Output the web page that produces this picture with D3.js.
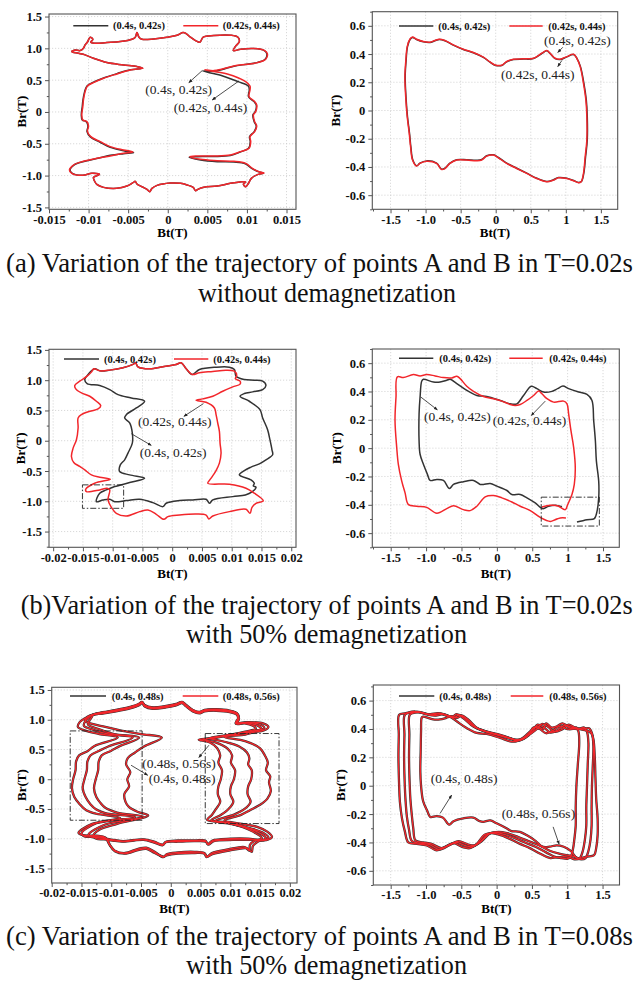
<!DOCTYPE html>
<html><head><meta charset="utf-8">
<script src="https://cdn.jsdelivr.net/npm/d3@7"></script>
<style>
body{margin:0;background:#fff}
svg{display:block}
svg text{font-family:'Liberation Serif','Times New Roman',Times,serif}
</style></head><body>
<svg id="fig" width="639" height="984"></svg>
<script>
// ---------- tick values and labels ----------
const btTicksA = [-0.015,-0.01,-0.005,0,0.005,0.01,0.015];
const btLabelsA = ["-0.015","-0.01","-0.005","0","0.005","0.01","0.015"];
const btTicksB = [-0.02,-0.015,-0.01,-0.005,0,0.005,0.01,0.015,0.02];
const btLabelsB = ["-0.02","-0.015","-0.01","-0.005","0","0.005","0.01","0.015","0.02"];
const brTicksA = [-1.5,-1,-0.5,0,0.5,1,1.5];
const brLabelsA = ["-1.5","-1.0","-0.5","0","0.5","1.0","1.5"];
const btTicksR = [-1.5,-1,-0.5,0,0.5,1,1.5];
const btLabelsR = ["-1.5","-1.0","-0.5","0","0.5","1","1.5"];
const brTicksR = [-0.6,-0.4,-0.2,0,0.2,0.4,0.6];
const brLabelsR = ["-0.6","-0.4","-0.2","0","0.2","0.4","0.6"];

// ---------- (a) point A, no demagnetization, [Bt, Br] in T ----------
const aLeftRed = [[-0.01014,1.100],[-0.00980,1.175],[-0.00946,1.143],[-0.00972,1.096],[-0.00917,1.080],[-0.00769,1.091],[-0.00600,1.106],[-0.00452,1.143],[-0.00410,1.175],[-0.00389,1.248],[-0.00363,1.175],[-0.00325,1.143],[-0.00177,1.148],[-0.00008,1.175],[0.00118,1.206],[0.00194,1.248],[0.00237,1.227],[0.00287,1.175],[0.00351,1.122],[0.00406,1.096],[0.00448,1.175],[0.00583,1.201],[0.00794,1.206],[0.00887,1.175],[0.00904,1.106],[0.00853,1.028],[0.00828,0.965],[0.00921,0.986],[0.01090,0.996],[0.01225,0.965],[0.01259,0.912],[0.01238,0.829],[0.01132,0.776],[0.01005,0.750],[0.00836,0.724],[0.00689,0.676],[0.00583,0.650],[0.00465,0.661],[0.00752,0.598],[0.00984,0.477],[0.01039,0.409],[0.01039,0.346],[0.01027,0.241],[0.01098,0.163],[0.01124,0.110],[0.01111,0.005],[0.01082,-0.047],[0.01098,-0.152],[0.01124,-0.220],[0.01098,-0.309],[0.01039,-0.388],[0.01048,-0.467],[0.01027,-0.572],[0.00921,-0.624],[0.00794,-0.676],[0.00583,-0.692],[0.00372,-0.692],[0.00279,-0.703],[0.00414,-0.745],[0.00625,-0.766],[0.00836,-0.776],[0.00984,-0.808],[0.01069,-0.886],[0.01153,-0.939],[0.01217,-0.960],[0.01141,-0.981],[0.01056,-1.044],[0.01014,-1.133],[0.00984,-1.175],[0.00955,-1.133],[0.00984,-1.101],[0.00836,-1.112],[0.00625,-1.164],[0.00456,-1.185],[0.00380,-1.217],[0.00351,-1.238],[0.00321,-1.185],[0.00245,-1.148],[0.00161,-1.122],[0.00034,-1.117],[-0.00135,-1.154],[-0.00199,-1.201],[-0.00228,-1.253],[-0.00262,-1.217],[-0.00325,-1.175],[-0.00389,-1.133],[-0.00410,-1.091],[-0.00439,-1.112],[-0.00515,-1.164],[-0.00642,-1.201],[-0.00811,-1.185],[-0.00896,-1.138],[-0.00925,-1.085],[-0.00938,-1.028],[-0.00862,-0.981],[-0.00959,-0.965],[-0.01073,-0.996],[-0.01212,-0.965],[-0.01242,-0.912],[-0.01191,-0.834],[-0.01065,-0.776],[-0.00896,-0.729],[-0.00727,-0.692],[-0.00558,-0.650],[-0.00439,-0.629],[-0.00558,-0.598],[-0.00727,-0.545],[-0.00853,-0.467],[-0.00972,-0.388],[-0.01014,-0.309],[-0.01001,-0.220],[-0.01022,-0.152],[-0.01073,-0.126],[-0.01086,-0.047],[-0.01073,0.084],[-0.01065,0.189],[-0.01044,0.320],[-0.01014,0.409],[-0.00938,0.461],[-0.00811,0.530],[-0.00642,0.598],[-0.00473,0.661],[-0.00313,0.687],[-0.00389,0.713],[-0.00558,0.739],[-0.00769,0.776],[-0.00938,0.844],[-0.01044,0.897],[-0.01128,0.923],[-0.01212,0.949],[-0.01170,0.975],[-0.01107,0.965],[-0.01065,1.002],[-0.01044,1.054]];
const aLeftBlack = [[-0.01014,1.100],[-0.00980,1.175],[-0.00946,1.143],[-0.00972,1.096],[-0.00917,1.080],[-0.00769,1.091],[-0.00600,1.106],[-0.00452,1.143],[-0.00410,1.175],[-0.00389,1.248],[-0.00363,1.175],[-0.00325,1.143],[-0.00177,1.148],[-0.00008,1.175],[0.00118,1.206],[0.00194,1.248],[0.00237,1.227],[0.00287,1.175],[0.00351,1.122],[0.00406,1.096],[0.00448,1.175],[0.00583,1.201],[0.00794,1.206],[0.00887,1.175],[0.00904,1.106],[0.00853,1.028],[0.00828,0.965],[0.00921,0.986],[0.01090,0.996],[0.01220,0.965],[0.01252,0.912],[0.01230,0.829],[0.01128,0.776],[0.01000,0.750],[0.00836,0.720],[0.00689,0.668],[0.00583,0.640],[0.00439,0.645],[0.00668,0.577],[0.00887,0.477],[0.01018,0.409],[0.01030,0.346],[0.01020,0.241],[0.01090,0.163],[0.01118,0.110],[0.01105,0.005],[0.01075,-0.047],[0.01092,-0.152],[0.01118,-0.220],[0.01092,-0.309],[0.01033,-0.388],[0.01042,-0.467],[0.01020,-0.572],[0.00915,-0.630],[0.00790,-0.684],[0.00583,-0.700],[0.00372,-0.702],[0.00270,-0.713],[0.00414,-0.755],[0.00625,-0.781],[0.00836,-0.788],[0.00980,-0.815],[0.01065,-0.890],[0.01150,-0.942],[0.01210,-0.962],[0.01141,-0.981],[0.01056,-1.044],[0.01014,-1.133],[0.00984,-1.175],[0.00955,-1.133],[0.00984,-1.101],[0.00836,-1.112],[0.00625,-1.164],[0.00456,-1.185],[0.00380,-1.217],[0.00351,-1.238],[0.00321,-1.185],[0.00245,-1.148],[0.00161,-1.122],[0.00034,-1.117],[-0.00135,-1.154],[-0.00199,-1.201],[-0.00228,-1.253],[-0.00262,-1.217],[-0.00325,-1.175],[-0.00389,-1.133],[-0.00410,-1.091],[-0.00439,-1.112],[-0.00515,-1.164],[-0.00642,-1.201],[-0.00811,-1.185],[-0.00896,-1.138],[-0.00925,-1.085],[-0.00938,-1.028],[-0.00862,-0.981],[-0.00959,-0.965],[-0.01073,-0.996],[-0.01205,-0.965],[-0.01235,-0.912],[-0.01185,-0.834],[-0.01060,-0.778],[-0.00896,-0.733],[-0.00727,-0.681],[-0.00558,-0.655],[-0.00431,-0.640],[-0.00558,-0.608],[-0.00727,-0.556],[-0.00860,-0.472],[-0.00978,-0.392],[-0.01020,-0.309],[-0.01008,-0.220],[-0.01030,-0.152],[-0.01080,-0.126],[-0.01092,-0.047],[-0.01080,0.084],[-0.01071,0.189],[-0.01050,0.320],[-0.01020,0.409],[-0.00945,0.465],[-0.00811,0.535],[-0.00642,0.603],[-0.00473,0.664],[-0.00318,0.689],[-0.00389,0.713],[-0.00558,0.739],[-0.00769,0.776],[-0.00938,0.844],[-0.01044,0.897],[-0.01128,0.923],[-0.01212,0.949],[-0.01170,0.975],[-0.01107,0.965],[-0.01065,1.002],[-0.01044,1.054]];

// ---------- (a) point B, no demagnetization ----------
const aRightRed = [[-1.224,0.505],[-1.186,0.520],[-1.129,0.505],[-1.033,0.489],[-0.938,0.484],[-0.867,0.496],[-0.805,0.505],[-0.724,0.496],[-0.605,0.465],[-0.462,0.434],[-0.319,0.411],[-0.176,0.378],[-0.081,0.344],[-0.010,0.323],[0.086,0.321],[0.157,0.347],[0.252,0.363],[0.395,0.366],[0.538,0.370],[0.657,0.406],[0.729,0.425],[0.776,0.406],[0.848,0.370],[0.919,0.363],[1.014,0.382],[1.110,0.399],[1.157,0.370],[1.205,0.311],[1.252,0.193],[1.286,0.075],[1.300,-0.044],[1.300,-0.209],[1.276,-0.328],[1.252,-0.446],[1.219,-0.505],[1.181,-0.512],[1.110,-0.498],[1.014,-0.482],[0.895,-0.477],[0.824,-0.493],[0.729,-0.505],[0.586,-0.482],[0.443,-0.446],[0.300,-0.411],[0.157,-0.375],[0.038,-0.335],[-0.033,-0.316],[-0.129,-0.323],[-0.200,-0.351],[-0.271,-0.356],[-0.414,-0.351],[-0.557,-0.351],[-0.652,-0.375],[-0.724,-0.411],[-0.771,-0.418],[-0.843,-0.375],[-0.986,-0.359],[-1.081,-0.375],[-1.129,-0.394],[-1.186,-0.351],[-1.214,-0.257],[-1.233,-0.162],[-1.262,-0.044],[-1.281,0.075],[-1.295,0.240],[-1.281,0.359],[-1.262,0.453]];
const aRightBlack = [[-1.220,0.505],[-1.186,0.518],[-1.129,0.503],[-1.033,0.487],[-0.938,0.482],[-0.867,0.494],[-0.805,0.503],[-0.724,0.494],[-0.605,0.463],[-0.462,0.432],[-0.319,0.409],[-0.176,0.376],[-0.081,0.342],[-0.010,0.321],[0.086,0.319],[0.157,0.345],[0.252,0.361],[0.395,0.364],[0.538,0.368],[0.657,0.404],[0.729,0.423],[0.776,0.404],[0.848,0.368],[0.919,0.361],[1.014,0.380],[1.110,0.397],[1.160,0.368],[1.210,0.309],[1.258,0.193],[1.292,0.075],[1.306,-0.044],[1.306,-0.209],[1.282,-0.328],[1.256,-0.446],[1.222,-0.503],[1.181,-0.510],[1.110,-0.496],[1.014,-0.480],[0.895,-0.475],[0.824,-0.491],[0.729,-0.503],[0.586,-0.480],[0.443,-0.444],[0.300,-0.409],[0.157,-0.373],[0.038,-0.333],[-0.033,-0.314],[-0.129,-0.321],[-0.200,-0.347],[-0.271,-0.352],[-0.414,-0.349],[-0.557,-0.349],[-0.652,-0.373],[-0.724,-0.409],[-0.771,-0.416],[-0.843,-0.373],[-0.986,-0.357],[-1.081,-0.373],[-1.126,-0.392],[-1.182,-0.351],[-1.210,-0.257],[-1.229,-0.162],[-1.258,-0.044],[-1.277,0.075],[-1.291,0.240],[-1.277,0.359],[-1.258,0.453]];

// ---------- (b) point A, 50% demagnetization ----------
const bLeftRed = [[-0.01318,1.188],[-0.01218,1.155],[-0.01050,1.166],[-0.00827,1.204],[-0.00659,1.260],[-0.00615,1.287],[-0.00575,1.221],[-0.00380,1.188],[-0.00156,1.221],[0.00067,1.260],[0.00151,1.287],[0.00235,1.188],[0.00335,1.094],[0.00458,1.122],[0.00682,1.144],[0.00905,1.166],[0.01045,1.149],[0.01084,1.077],[0.01061,1.022],[0.01140,0.983],[0.01140,0.934],[0.01017,0.890],[0.00849,0.818],[0.00682,0.735],[0.00514,0.691],[0.00402,0.669],[0.00570,0.635],[0.00709,0.541],[0.00737,0.431],[0.00765,0.293],[0.00793,0.155],[0.00804,-0.039],[0.00821,-0.204],[0.00793,-0.370],[0.00737,-0.492],[0.00654,-0.619],[0.00598,-0.702],[0.00961,-0.718],[0.01240,-0.785],[0.01380,-0.867],[0.01531,-0.994],[0.01408,-1.033],[0.01341,-1.099],[0.01307,-1.199],[0.01240,-1.133],[0.00961,-1.171],[0.00682,-1.243],[0.00615,-1.293],[0.00570,-1.227],[0.00402,-1.210],[0.00123,-1.227],[-0.00073,-1.254],[-0.00140,-1.298],[-0.00268,-1.215],[-0.00408,-1.144],[-0.00547,-1.171],[-0.00771,-1.243],[-0.00939,-1.199],[-0.01022,-1.099],[-0.01078,-0.978],[-0.01050,-0.812],[-0.01095,-0.785],[-0.01218,-0.812],[-0.01441,-0.840],[-0.01453,-0.801],[-0.01302,-0.702],[-0.01039,-0.635],[-0.01218,-0.602],[-0.01358,-0.564],[-0.01469,-0.481],[-0.01553,-0.425],[-0.01654,-0.359],[-0.01693,-0.260],[-0.01665,-0.122],[-0.01609,0.017],[-0.01581,0.210],[-0.01581,0.376],[-0.01525,0.431],[-0.01385,0.486],[-0.01246,0.525],[-0.01201,0.580],[-0.01274,0.652],[-0.01385,0.735],[-0.01525,0.790],[-0.01620,0.856],[-0.01637,0.912],[-0.01553,0.983],[-0.01430,1.066],[-0.01358,1.133]];
const bLeftBlack = [[-0.01302,1.188],[-0.01218,1.155],[-0.01050,1.166],[-0.00827,1.204],[-0.00659,1.260],[-0.00615,1.287],[-0.00575,1.221],[-0.00380,1.188],[-0.00156,1.221],[0.00067,1.260],[0.00151,1.287],[0.00235,1.188],[0.00335,1.094],[0.00458,1.177],[0.00737,1.215],[0.00961,1.215],[0.01045,1.177],[0.01073,1.066],[0.01212,1.011],[0.01380,1.000],[0.01520,0.983],[0.01575,0.912],[0.01520,0.845],[0.01352,0.807],[0.01212,0.779],[0.01140,0.735],[0.01296,0.652],[0.01475,0.514],[0.01520,0.376],[0.01603,0.182],[0.01642,0.017],[0.01676,-0.149],[0.01687,-0.232],[0.01575,-0.315],[0.01464,-0.381],[0.01324,-0.436],[0.01212,-0.492],[0.01128,-0.564],[0.01324,-0.646],[0.01380,-0.702],[0.01363,-0.746],[0.01408,-0.768],[0.01341,-0.845],[0.01229,-0.895],[0.01017,-0.923],[0.00682,-0.978],[0.00626,-1.033],[0.00570,-0.967],[0.00346,-0.978],[0.00123,-0.989],[-0.00101,-1.033],[-0.00156,-1.088],[-0.00324,-1.022],[-0.00547,-0.967],[-0.00771,-0.989],[-0.00966,-1.006],[-0.01050,-0.967],[-0.01162,-0.978],[-0.01274,-1.006],[-0.01218,-0.867],[-0.01106,-0.812],[-0.00966,-0.757],[-0.00715,-0.691],[-0.00464,-0.619],[-0.00715,-0.564],[-0.00883,-0.508],[-0.00872,-0.398],[-0.00799,-0.315],[-0.00743,-0.204],[-0.00670,-0.039],[-0.00670,0.127],[-0.00715,0.293],[-0.00799,0.376],[-0.00771,0.431],[-0.00603,0.541],[-0.00464,0.652],[-0.00687,0.707],[-0.00911,0.762],[-0.01050,0.845],[-0.01218,0.912],[-0.01430,0.945],[-0.01469,1.011],[-0.01413,1.094]];

// ---------- (b) point B, 50% demagnetization (open trajectories) ----------
const bRightRed = [[0.637,-0.415],[0.755,-0.403],[0.858,-0.406],[0.967,-0.434],[1.000,-0.399],[1.061,-0.327],[1.094,-0.256],[1.108,-0.138],[1.085,0.005],[1.047,0.123],[1.014,0.242],[0.991,0.313],[0.943,0.332],[0.802,0.325],[0.708,0.349],[0.637,0.384],[0.590,0.403],[0.519,0.372],[0.425,0.337],[0.330,0.308],[0.259,0.301],[0.189,0.308],[0.071,0.332],[-0.047,0.349],[-0.189,0.365],[-0.330,0.401],[-0.425,0.437],[-0.519,0.491],[-0.566,0.508],[-0.637,0.496],[-0.755,0.498],[-0.873,0.510],[-0.991,0.520],[-1.085,0.510],[-1.179,0.520],[-1.321,0.498],[-1.406,0.503],[-1.425,0.361],[-1.439,0.195],[-1.415,0.005],[-1.392,-0.114],[-1.344,-0.233],[-1.297,-0.316],[-1.250,-0.399],[-1.132,-0.410],[-0.991,-0.418],[-0.849,-0.460],[-0.708,-0.427],[-0.613,-0.406],[-0.472,-0.434],[-0.377,-0.441],[-0.283,-0.410],[-0.165,-0.344],[-0.047,-0.335],[0.071,-0.351],[0.212,-0.380],[0.330,-0.410],[0.472,-0.441],[0.613,-0.489],[0.755,-0.517],[0.825,-0.505],[0.896,-0.493],[0.976,-0.493]];
const bRightBlack = [[1.132,-0.522],[1.274,-0.505],[1.377,-0.498],[1.415,-0.446],[1.439,-0.351],[1.439,-0.233],[1.406,-0.090],[1.392,0.052],[1.368,0.195],[1.344,0.337],[1.274,0.380],[1.156,0.396],[1.014,0.420],[0.934,0.439],[0.858,0.420],[0.778,0.401],[0.660,0.396],[0.566,0.420],[0.486,0.437],[0.377,0.372],[0.283,0.313],[0.189,0.313],[0.047,0.337],[-0.142,0.365],[-0.283,0.372],[-0.425,0.408],[-0.566,0.456],[-0.660,0.486],[-0.708,0.479],[-0.802,0.467],[-0.896,0.467],[-1.038,0.486],[-1.061,0.474],[-1.085,0.361],[-1.099,0.242],[-1.099,0.052],[-1.085,-0.043],[-1.038,-0.114],[-0.981,-0.185],[-0.943,-0.228],[-0.849,-0.221],[-0.755,-0.228],[-0.670,-0.285],[-0.613,-0.256],[-0.472,-0.237],[-0.330,-0.228],[-0.236,-0.256],[-0.189,-0.256],[-0.094,-0.249],[0.000,-0.268],[0.142,-0.299],[0.212,-0.327],[0.330,-0.327],[0.425,-0.351],[0.542,-0.387],[0.651,-0.427],[0.731,-0.410],[0.825,-0.403],[0.920,-0.413]];

// ---------- (c) point A, T=0.08s, 50% demagnetization: four cycles ----------
const cLeftCycle1 = [[-0.0136,1.07],[-0.01145,1.111],[-0.0092,1.150],[-0.00668,1.206],[-0.00539,1.250],[-0.00483,1.289],[-0.00438,1.233],[-0.00303,1.194],[-0.00079,1.217],[0.0009,1.250],[0.00191,1.289],[0.00258,1.233],[0.0037,1.150],[0.00483,1.117],[0.00567,1.150],[0.00763,1.161],[0.00988,1.139],[0.01111,1.094],[0.01128,1.011],[0.01089,0.939],[0.0124,0.94],[0.0138,0.90],[0.0143,0.85],[0.0125,0.80],[0.0095,0.74],[0.0068,0.69],[0.0047,0.665],[0.0065,0.62],[0.0078,0.52],[0.0083,0.40],[0.0080,0.28],[0.0086,0.15],[0.0084,0.0],[0.0080,-0.12],[0.0079,-0.25],[0.0083,-0.38],[0.0076,-0.50],[0.0069,-0.60],[0.0061,-0.683],[0.0090,-0.72],[0.0120,-0.80],[0.0138,-0.88],[0.0153,-0.99],[0.0140,-1.04],[0.0133,-1.10],[0.0132,-1.20],[0.0124,-1.14],[0.0096,-1.18],[0.0069,-1.24],[0.0060,-1.31],[0.0056,-1.24],[0.0040,-1.22],[0.0012,-1.23],[-0.0007,-1.26],[-0.00125,-1.31],[-0.0027,-1.22],[-0.0041,-1.15],[-0.0055,-1.17],[-0.0077,-1.24],[-0.0094,-1.20],[-0.0103,-1.10],[-0.0110,-0.98],[-0.0125,-0.95],[-0.0148,-0.94],[-0.0155,-0.90],[-0.0132,-0.75],[-0.0085,-0.65],[-0.0125,-0.58],[-0.0142,-0.52],[-0.0153,-0.42],[-0.0162,-0.30],[-0.0166,-0.15],[-0.0164,0.0],[-0.0160,0.15],[-0.0159,0.30],[-0.0154,0.40],[-0.0140,0.47],[-0.0128,0.56],[-0.0089,0.70],[-0.0120,0.76],[-0.0145,0.82],[-0.0156,0.88],[-0.0153,0.96],[-0.0143,1.03]];
const cLeftCycle2 = [[-0.0133,1.08],[-0.01145,1.126],[-0.0092,1.165],[-0.00668,1.221],[-0.00539,1.265],[-0.00483,1.30],[-0.00438,1.248],[-0.00303,1.209],[-0.00079,1.232],[0.0009,1.265],[0.00191,1.30],[0.00258,1.248],[0.0037,1.165],[0.00483,1.132],[0.00567,1.165],[0.00763,1.176],[0.00988,1.154],[0.01111,1.109],[0.01135,1.026],[0.01095,0.954],[0.0126,0.95],[0.0146,0.90],[0.0152,0.85],[0.0135,0.80],[0.0100,0.74],[0.0073,0.69],[0.0054,0.67],[0.0075,0.62],[0.0095,0.52],[0.0103,0.40],[0.0101,0.28],[0.0108,0.15],[0.0106,0.0],[0.0101,-0.12],[0.0100,-0.25],[0.0105,-0.38],[0.0097,-0.50],[0.0084,-0.60],[0.0068,-0.69],[0.0100,-0.74],[0.0130,-0.82],[0.0148,-0.90],[0.0160,-0.99],[0.0146,-1.05],[0.0138,-1.12],[0.0136,-1.22],[0.0128,-1.16],[0.0098,-1.20],[0.0070,-1.26],[0.0061,-1.30],[0.0057,-1.25],[0.0040,-1.24],[0.0012,-1.25],[-0.0007,-1.28],[-0.0012,-1.30],[-0.0027,-1.24],[-0.0041,-1.17],[-0.0055,-1.19],[-0.0077,-1.25],[-0.0094,-1.21],[-0.0102,-1.11],[-0.0108,-1.00],[-0.0123,-0.97],[-0.0145,-0.96],[-0.0150,-0.91],[-0.0125,-0.74],[-0.0060,-0.64],[-0.0110,-0.57],[-0.0125,-0.51],[-0.0135,-0.42],[-0.0143,-0.30],[-0.0148,-0.15],[-0.0145,0.0],[-0.0141,0.15],[-0.0140,0.30],[-0.0135,0.40],[-0.0120,0.48],[-0.0105,0.55],[-0.0064,0.70],[-0.0105,0.76],[-0.0130,0.83],[-0.0146,0.90],[-0.0144,0.97],[-0.0138,1.03]];
const cLeftCycle3 = [[-0.0130,1.085],[-0.01145,1.101],[-0.0092,1.140],[-0.00668,1.196],[-0.00539,1.240],[-0.00483,1.279],[-0.00438,1.223],[-0.00303,1.184],[-0.00079,1.207],[0.0009,1.240],[0.00191,1.279],[0.00258,1.223],[0.0037,1.140],[0.00483,1.107],[0.00567,1.140],[0.00763,1.151],[0.00988,1.129],[0.01111,1.084],[0.0114,1.001],[0.0110,0.929],[0.0128,0.95],[0.0150,0.92],[0.0157,0.86],[0.0135,0.80],[0.0095,0.74],[0.0065,0.69],[0.0090,0.63],[0.0115,0.55],[0.0128,0.45],[0.0132,0.35],[0.0130,0.25],[0.0136,0.15],[0.0135,0.0],[0.0130,-0.12],[0.0129,-0.25],[0.0134,-0.38],[0.0124,-0.50],[0.0105,-0.60],[0.0075,-0.70],[0.0105,-0.76],[0.0135,-0.83],[0.0155,-0.90],[0.0164,-0.98],[0.0155,-1.03],[0.0145,-1.02],[0.0130,-1.00],[0.0100,-1.00],[0.0070,-1.03],[0.0062,-1.09],[0.0058,-1.03],[0.0040,-1.03],[0.0012,-1.03],[-0.0008,-1.05],[-0.0013,-1.10],[-0.0028,-1.05],[-0.0045,-1.01],[-0.0060,-1.02],[-0.0080,-1.04],[-0.0095,-1.02],[-0.0110,-1.00],[-0.0123,-0.98],[-0.0133,-0.97],[-0.0138,-0.93],[-0.0110,-0.76],[-0.0046,-0.63],[-0.0090,-0.56],[-0.0110,-0.48],[-0.0118,-0.40],[-0.0125,-0.30],[-0.0129,-0.15],[-0.0126,0.0],[-0.0122,0.15],[-0.0121,0.30],[-0.0116,0.40],[-0.0100,0.48],[-0.0085,0.56],[-0.0053,0.70],[-0.0095,0.76],[-0.0120,0.84],[-0.0139,0.92],[-0.0137,0.98],[-0.0133,1.04]];
const cLeftCycle4 = [[-0.0129,1.09],[-0.01145,1.118],[-0.0092,1.157],[-0.00668,1.213],[-0.00539,1.257],[-0.00483,1.294],[-0.00438,1.240],[-0.00303,1.201],[-0.00079,1.224],[0.0009,1.257],[0.00191,1.294],[0.00258,1.240],[0.0037,1.157],[0.00483,1.124],[0.00567,1.157],[0.00763,1.168],[0.00988,1.146],[0.0112,1.101],[0.01145,1.018],[0.0111,0.946],[0.0129,0.96],[0.0155,0.94],[0.0164,0.88],[0.0156,0.82],[0.0140,0.79],[0.0125,0.75],[0.0090,0.71],[0.0125,0.64],[0.0150,0.52],[0.0158,0.40],[0.0163,0.28],[0.0160,0.15],[0.0167,0.05],[0.0165,-0.05],[0.0168,-0.20],[0.0162,-0.33],[0.0150,-0.43],[0.0133,-0.52],[0.0118,-0.60],[0.0090,-0.69],[0.0120,-0.75],[0.0145,-0.80],[0.0162,-0.88],[0.0170,-0.97],[0.0162,-1.02],[0.0150,-1.02],[0.0135,-1.02],[0.0105,-1.02],[0.0072,-1.04],[0.0063,-1.10],[0.0059,-1.05],[0.0040,-1.04],[0.0012,-1.05],[-0.0009,-1.06],[-0.0014,-1.11],[-0.0029,-1.06],[-0.0046,-1.02],[-0.0062,-1.03],[-0.0082,-1.05],[-0.0098,-1.03],[-0.0112,-1.01],[-0.0125,-1.00],[-0.0130,-0.95],[-0.0120,-0.85],[-0.0090,-0.75],[-0.0038,-0.61],[-0.0055,-0.55],[-0.0070,-0.47],[-0.0076,-0.38],[-0.0078,-0.25],[-0.0070,-0.12],[-0.0073,0.0],[-0.0068,0.12],[-0.0075,0.25],[-0.0072,0.36],[-0.0060,0.45],[-0.0045,0.55],[-0.0015,0.70],[-0.0050,0.76],[-0.0085,0.82],[-0.0110,0.88],[-0.0132,0.93],[-0.0144,0.98],[-0.0140,1.04]];

// ---------- (c) point B, T=0.08s, 50% demagnetization: four cycles ----------
const cRightCycle1 = [[-1.38,0.50],[-1.30,0.51],[-1.155,0.523],[-1.04,0.511],[-0.94,0.504],[-0.83,0.511],[-0.71,0.495],[-0.61,0.49],[-0.57,0.505],[-0.47,0.476],[-0.33,0.417],[-0.14,0.382],[0.05,0.358],[0.19,0.335],[0.28,0.316],[0.38,0.33],[0.47,0.37],[0.52,0.41],[0.61,0.40],[0.70,0.37],[0.80,0.39],[0.90,0.42],[0.99,0.40],[1.08,0.40],[1.13,0.41],[1.16,0.38],[1.17,0.30],[1.15,0.15],[1.13,0.0],[1.12,-0.15],[1.12,-0.28],[1.10,-0.38],[1.08,-0.45],[1.05,-0.50],[1.00,-0.515],[0.92,-0.51],[0.85,-0.505],[0.76,-0.51],[0.62,-0.48],[0.47,-0.44],[0.33,-0.41],[0.21,-0.38],[0.07,-0.35],[-0.05,-0.335],[-0.17,-0.345],[-0.28,-0.41],[-0.38,-0.44],[-0.47,-0.435],[-0.61,-0.405],[-0.71,-0.425],[-0.85,-0.455],[-0.99,-0.42],[-1.13,-0.41],[-1.25,-0.40],[-1.30,-0.32],[-1.34,-0.23],[-1.37,-0.11],[-1.38,0.0],[-1.39,0.20],[-1.385,0.36]];
const cRightCycle2 = [[-1.30,0.50],[-1.22,0.515],[-1.10,0.52],[-1.00,0.505],[-0.90,0.50],[-0.79,0.51],[-0.68,0.49],[-0.58,0.485],[-0.53,0.50],[-0.43,0.47],[-0.30,0.41],[-0.12,0.378],[0.07,0.352],[0.22,0.33],[0.32,0.32],[0.43,0.35],[0.52,0.39],[0.58,0.43],[0.67,0.41],[0.76,0.375],[0.86,0.39],[0.96,0.425],[1.05,0.405],[1.16,0.40],[1.24,0.41],[1.28,0.38],[1.30,0.30],[1.29,0.15],[1.28,0.0],[1.27,-0.15],[1.27,-0.28],[1.25,-0.38],[1.22,-0.46],[1.18,-0.51],[1.12,-0.52],[1.03,-0.505],[0.95,-0.50],[0.85,-0.505],[0.70,-0.47],[0.55,-0.43],[0.40,-0.40],[0.26,-0.37],[0.12,-0.345],[0.0,-0.33],[-0.12,-0.34],[-0.24,-0.40],[-0.34,-0.43],[-0.43,-0.425],[-0.57,-0.40],[-0.67,-0.42],[-0.81,-0.45],[-0.95,-0.415],[-1.08,-0.405],[-1.20,-0.39],[-1.24,-0.31],[-1.27,-0.22],[-1.29,-0.10],[-1.30,0.0],[-1.31,0.20],[-1.305,0.36]];
const cRightCycle3 = [[-1.23,0.50],[-1.16,0.515],[-1.05,0.515],[-0.96,0.50],[-0.86,0.495],[-0.75,0.505],[-0.65,0.485],[-0.55,0.48],[-0.50,0.495],[-0.40,0.465],[-0.27,0.405],[-0.10,0.372],[0.10,0.345],[0.26,0.325],[0.37,0.33],[0.48,0.365],[0.57,0.40],[0.64,0.435],[0.73,0.415],[0.82,0.38],[0.92,0.395],[1.02,0.43],[1.11,0.41],[1.22,0.40],[1.31,0.405],[1.35,0.37],[1.37,0.28],[1.36,0.12],[1.35,0.0],[1.345,-0.15],[1.345,-0.28],[1.33,-0.38],[1.30,-0.46],[1.26,-0.51],[1.20,-0.52],[1.10,-0.50],[1.00,-0.49],[0.90,-0.48],[0.76,-0.46],[0.60,-0.42],[0.45,-0.39],[0.30,-0.36],[0.15,-0.335],[0.03,-0.325],[-0.09,-0.335],[-0.21,-0.39],[-0.31,-0.42],[-0.40,-0.415],[-0.54,-0.39],[-0.64,-0.41],[-0.78,-0.44],[-0.92,-0.41],[-1.04,-0.40],[-1.15,-0.385],[-1.18,-0.30],[-1.20,-0.21],[-1.22,-0.10],[-1.23,0.0],[-1.24,0.20],[-1.235,0.36]];
const cRightCycle4 = [[-1.06,0.48],[-1.04,0.487],[-0.90,0.467],[-0.80,0.467],[-0.71,0.479],[-0.66,0.486],[-0.57,0.456],[-0.43,0.408],[-0.28,0.372],[-0.14,0.365],[0.05,0.337],[0.19,0.313],[0.28,0.313],[0.38,0.34],[0.49,0.39],[0.57,0.42],[0.66,0.40],[0.70,0.44],[0.78,0.41],[0.86,0.42],[0.93,0.44],[1.01,0.42],[1.16,0.40],[1.27,0.39],[1.34,0.37],[1.37,0.33],[1.39,0.20],[1.40,0.05],[1.41,-0.09],[1.43,-0.23],[1.43,-0.35],[1.41,-0.44],[1.38,-0.49],[1.28,-0.50],[1.14,-0.51],[1.05,-0.46],[0.95,-0.43],[0.85,-0.42],[0.75,-0.43],[0.65,-0.43],[0.54,-0.385],[0.43,-0.35],[0.33,-0.325],[0.21,-0.32],[0.14,-0.30],[0.0,-0.265],[-0.09,-0.245],[-0.19,-0.255],[-0.24,-0.25],[-0.33,-0.225],[-0.47,-0.23],[-0.61,-0.25],[-0.67,-0.275],[-0.76,-0.225],[-0.85,-0.215],[-0.94,-0.22],[-0.98,-0.18],[-1.04,-0.11],[-1.07,0.0],[-1.08,0.10],[-1.075,0.25],[-1.07,0.38]];
const cLeftCycles = [cLeftCycle1,cLeftCycle2,cLeftCycle3,cLeftCycle4];
const cRightCycles = [cRightCycle1,cRightCycle2,cRightCycle3,cRightCycle4];

// ---------- drawing ----------
const BLACK = '#333333', RED = '#f2262b';
const svg = d3.select('#fig');
svg.append('rect').attr('width',639).attr('height',984).attr('fill','#fff');

const defs = svg.append('defs');
defs.append('marker').attr('id','arrow').attr('viewBox','0 0 10 10').attr('refX',9).attr('refY',5)
  .attr('markerWidth',5).attr('markerHeight',5).attr('orient','auto-start-reverse')
  .append('path').attr('d','M0,1 L10,5 L0,9 Z').attr('fill','#222');

const panels = [
  {key:'aL', box:[49,14,296,209.3], xDom:[-0.015,0.0162], yDom:[-1.53,1.54],
   xt:btTicksA, xl:btLabelsA, yt:brTicksA, yl:brLabelsA, xTitleY:237, yTitleX:21.5,
   legend:{y:25.7, k:[73.3,108.3,113], r:[183.3,218.3,222.7], labels:['(0.4s, 0.42s)','(0.42s, 0.44s)']},
   series:[{d:aLeftBlack,c:BLACK,closed:true},{d:aLeftRed,c:RED,closed:true}],
   notes:[{t:'(0.4s, 0.42s)',x:-0.00283,y:0.283},{t:'(0.42s, 0.44s)',x:0.00076,y:0.005}],
   arrows:[[0.00435,0.650,0.00266,0.461],[0.0090,0.488,0.00562,0.189]], boxes:[]},
  {key:'aR', box:[372.3,11.7,617.7,209.3], xDom:[-1.76,1.74], yDom:[-0.70,0.70],
   xt:btTicksR, xl:btLabelsR, yt:brTicksR, yl:brLabelsR, xTitleY:237, yTitleX:335,
   legend:{y:26, k:[399,433.3,438.3], r:[509.3,542.7,548.3], labels:['(0.4s, 0.42s)','(0.42s, 0.44s)']},
   series:[{d:aRightBlack,c:BLACK,closed:true},{d:aRightRed,c:RED,closed:true}],
   notes:[{t:'(0.4s, 0.42s)',x:0.690,y:0.465},{t:'(0.42s, 0.44s)',x:0.076,y:0.224}],
   arrows:[[0.957,0.448,0.885,0.411],[0.945,0.355,0.885,0.311]], boxes:[]},
  {key:'bL', box:[49,349.3,296,547.3], xDom:[-0.0207,0.0208], yDom:[-1.76,1.51],
   xt:btTicksB, xl:btLabelsB, yt:brTicksA, yl:brLabelsA, xTitleY:578, yTitleX:20.7,
   legend:{y:359, k:[64,99,104], r:[174,208.3,213.3], labels:['(0.4s, 0.42s)','(0.42s, 0.44s)']},
   series:[{d:bLeftBlack,c:BLACK,closed:true},{d:bLeftRed,c:RED,closed:true}],
   notes:[{t:'(0.42s, 0.44s)',x:-0.00575,y:0.238},{t:'(0.4s, 0.42s)',x:-0.00547,y:-0.276}],
   arrows:[[0.00525,0.613,0.00196,0.403],[-0.00687,0.116,-0.00352,-0.077]],
   boxes:[[-0.01508,-0.729,-0.00816,-1.116]]},
  {key:'bR', box:[372.3,349,619.3,547.3], xDom:[-1.76,1.73], yDom:[-0.70,0.70],
   xt:btTicksR, xl:btLabelsR, yt:brTicksR, yl:brLabelsR, xTitleY:578, yTitleX:336.7,
   legend:{y:358.3, k:[399,433.3,439.3], r:[509.3,542.7,549.3], labels:['(0.4s, 0.42s)','(0.42s, 0.44s)']},
   series:[{d:bRightBlack,c:BLACK,closed:false},{d:bRightRed,c:RED,closed:false}],
   notes:[{t:'(0.4s, 0.42s)',x:-1.028,y:0.195},{t:'(0.42s, 0.44s)',x:-0.057,y:0.164}],
   arrows:[[-1.075,0.361,-0.840,0.270],[0.684,0.332,0.486,0.230]],
   boxes:[[0.627,-0.346,1.448,-0.550]]},
  {key:'cL', box:[51.7,687.3,297,883], xDom:[-0.02,0.0212], yDom:[-1.744,1.545],
   xt:btTicksB, xl:btLabelsB, yt:brTicksA, yl:brLabelsA, xTitleY:913, yTitleX:21.7,
   legend:{y:696, k:[70,106,111.7], r:[182.7,218.3,222.7], labels:['(0.4s, 0.48s)','(0.48s, 0.56s)']},
   series:[...cLeftCycles.map(d=>({d,c:BLACK,closed:true,w:2.3})),...cLeftCycles.map(d=>({d,c:RED,closed:true,w:1.3}))],
   notes:[{t:'(0.48s, 0.56s)',x:-0.0048,y:0.197},{t:'(0.4s, 0.48s)',x:-0.0037,y:-0.07}],
   arrows:[[-0.00667,0.235,-0.00387,0.067],[0.0064,0.571,0.00471,0.365]],
   boxes:[[-0.01689,0.812,-0.00481,-0.689],[0.00579,0.768,0.01818,-0.745]]},
  {key:'cR', box:[373.3,685,619.5,885], xDom:[-1.746,1.74], yDom:[-0.70,0.71],
   xt:btTicksR, xl:btLabelsR, yt:brTicksR, yl:brLabelsR, xTitleY:913, yTitleX:340,
   legend:{y:696, k:[399,434.3,439.3], r:[510.7,543.3,549.3], labels:['(0.4s, 0.48s)','(0.48s, 0.56s)']},
   series:[...cRightCycles.map(d=>({d,c:BLACK,closed:true,w:2.3})),...cRightCycles.map(d=>({d,c:RED,closed:true,w:1.3}))],
   notes:[{t:'(0.4s, 0.48s)',x:-0.934,y:0.017},{t:'(0.48s, 0.56s)',x:0.071,y:-0.231}],
   arrows:[[-0.80,-0.195,-0.637,-0.066],[0.80,-0.29,0.885,-0.412]], boxes:[]}
];

function minorTicks(ticks, dom){
  const step = ticks[1]-ticks[0], out=[];
  for (let v = ticks[0]-step/2; v <= dom[1]+1e-9; v += step/2){
    const isMajor = ticks.some(t=>Math.abs(t-v)<step*1e-3);
    if (!isMajor && v>=dom[0]-1e-9) out.push(v);
  }
  return out;
}

panels.forEach(p=>{
  const [x0,y0,x1,y1] = p.box;
  const x = d3.scaleLinear().domain(p.xDom).range([x0,x1]);
  const y = d3.scaleLinear().domain(p.yDom).range([y1,y0]);
  const g = svg.append('g').attr('class','panel-'+p.key);
  defs.append('clipPath').attr('id','clip-'+p.key).append('rect')
    .attr('x',x0).attr('y',y0).attr('width',x1-x0).attr('height',y1-y0);

  // dotted grid at the major ticks
  const grid = g.append('g').attr('stroke','#c8c8c8').attr('stroke-width',0.7).attr('stroke-dasharray','1.2,1.8');
  grid.selectAll('line.gx').data(p.xt.filter(v=>x(v)>x0+1&&x(v)<x1-1)).join('line')
    .attr('x1',d=>x(d)).attr('x2',d=>x(d)).attr('y1',y0).attr('y2',y1);
  grid.selectAll('line.gy').data(p.yt.filter(v=>y(v)>y0+1&&y(v)<y1-1)).join('line')
    .attr('class','gy').attr('y1',d=>y(d)).attr('y2',d=>y(d)).attr('x1',x0).attr('x2',x1);

  // trajectories
  const plot = g.append('g').attr('clip-path','url(#clip-'+p.key+')');
  p.series.forEach(s=>{
    const line = d3.line().x(d=>x(d[0])).y(d=>y(d[1]))
      .curve(s.closed ? d3.curveCatmullRomClosed.alpha(0.5) : d3.curveCatmullRom.alpha(0.5));
    plot.append('path').attr('d',line(s.d)).attr('fill','none')
      .attr('stroke',s.c).attr('stroke-width',s.w||1.5).attr('stroke-linejoin','round');
  });

  // dash-dot boxes
  p.boxes.forEach(b=>{
    g.append('rect').attr('x',x(b[0])).attr('y',y(b[1])).attr('width',x(b[2])-x(b[0])).attr('height',y(b[3])-y(b[1]))
      .attr('fill','none').attr('stroke','#222').attr('stroke-width',0.9).attr('stroke-dasharray','6,2,1.5,2');
  });

  // frame
  g.append('rect').attr('x',x0).attr('y',y0).attr('width',x1-x0).attr('height',y1-y0)
    .attr('fill','none').attr('stroke','#555').attr('stroke-width',1.1);

  // axes
  const fmtX = d=>p.xl[p.xt.indexOf(d)], fmtY = d=>p.yl[p.yt.indexOf(d)];
  const ax = g.append('g').attr('transform',`translate(0,${y1})`)
    .call(d3.axisBottom(x).tickValues(p.xt).tickFormat(fmtX).tickSize(4).tickPadding(1.5));
  const axm = g.append('g').attr('transform',`translate(0,${y1})`)
    .call(d3.axisBottom(x).tickValues(minorTicks(p.xt,p.xDom)).tickFormat('').tickSize(2.2));
  const ay = g.append('g').attr('transform',`translate(${x0},0)`)
    .call(d3.axisLeft(y).tickValues(p.yt).tickFormat(fmtY).tickSize(4).tickPadding(3));
  const aym = g.append('g').attr('transform',`translate(${x0},0)`)
    .call(d3.axisLeft(y).tickValues(minorTicks(p.yt,p.yDom)).tickFormat('').tickSize(2.2));
  [ax,axm,ay,aym].forEach(a=>{
    a.select('.domain').remove();
    a.attr('font-family',null).attr('font-size',null);
    a.selectAll('line').attr('stroke','#555').attr('stroke-width',1);
    a.selectAll('text').style('font-weight','bold').style('font-size','12.5px').attr('fill','#111');
  });

  // axis titles
  g.append('text').attr('x',(x0+x1)/2).attr('y',p.xTitleY).attr('text-anchor','middle')
    .style('font-weight','bold').style('font-size','13px').text('Bt(T)');
  g.append('text').attr('transform',`translate(${p.yTitleX},${(y0+y1)/2}) rotate(-90)`)
    .attr('text-anchor','middle').attr('dominant-baseline','central')
    .style('font-weight','bold').style('font-size','13px').text('Br(T)');

  // legend
  const L = p.legend;
  [[L.k,BLACK,L.labels[0]],[L.r,RED,L.labels[1]]].forEach(([pos,c,t])=>{
    g.append('line').attr('x1',pos[0]).attr('x2',pos[1]).attr('y1',L.y).attr('y2',L.y)
      .attr('stroke',c).attr('stroke-width',1.6);
    g.append('text').attr('x',pos[2]).attr('y',L.y).attr('dominant-baseline','central')
      .style('font-weight','bold').style('font-size','10.5px').attr('fill','#111').text(t);
  });

  // annotations
  p.arrows.forEach(a=>{
    g.append('line').attr('x1',x(a[0])).attr('y1',y(a[1])).attr('x2',x(a[2])).attr('y2',y(a[3]))
      .attr('stroke','#222').attr('stroke-width',0.8).attr('marker-end','url(#arrow)');
  });
  p.notes.forEach(n=>{
    g.append('text').attr('x',x(n.x)).attr('y',y(n.y))
      .style('font-size','13.5px').attr('fill','#222').text(n.t);
  });
});

// captions
const captions = [
  {t:'(a) Variation of the trajectory of points A and B in T=0.02s', x:6, y:272, w:627},
  {t:'without demagnetization', x:198, y:302, w:258},
  {t:'(b)Variation of the trajectory of points A and B in T=0.02s', x:20.7, y:613.5, w:612},
  {t:'with 50% demagnetization', x:186, y:643, w:281},
  {t:'(c) Variation of the trajectory of points A and B in T=0.08s', x:6, y:945, w:627},
  {t:'with 50% demagnetization', x:186, y:974, w:281}
];
svg.append('g').selectAll('text').data(captions).join('text')
  .attr('x',d=>d.x).attr('y',d=>d.y).attr('textLength',d=>d.w).attr('lengthAdjust','spacingAndGlyphs')
  .style('font-size','26.4px').attr('fill','#111').text(d=>d.t);
</script></body></html>
